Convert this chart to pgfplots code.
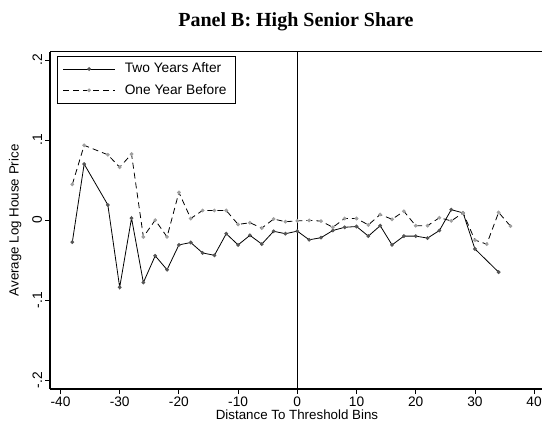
\documentclass[border=0pt]{standalone}
\usepackage{pgfplots}
\pgfplotsset{compat=1.18}
\usepackage{fontspec}
\setmainfont{Liberation Sans}
\newfontfamily\timesfont{Liberation Serif}
\definecolor{mkdark}{HTML}{555555}
\definecolor{mklight}{HTML}{A0A0A0}
\begin{document}
\begin{tikzpicture}
\path[use as bounding box] (0,0) rectangle (406.5pt,321.75pt);
\begin{axis}[
  at={(37.5pt,30pt)}, anchor=south west,
  scale only axis, width=369pt, height=253pt,
  xmin=-41.77, xmax=41.33, ymin=-0.211, ymax=0.2104,
  axis x line=box, axis y line=left,
  axis line style={-, line width=0.8pt, black},
  y axis line style={-},
  xtick={-40,-30,...,40},
  xticklabels={-40,-30,-20,-10,0,10,20,30,40},
  ytick={-0.2,-0.1,0,0.1,0.2},
  yticklabels={{-.2},{-.1},0,{.1},{.2}},
  xtick pos=bottom, ytick pos=left,
  tick align=outside, major tick length=3.75pt,
  tick style={black, line width=0.6pt},
  ticklabel style={font=\fontsize{10.3}{12}\selectfont},
  yticklabel style={rotate=90, anchor=south, inner sep=2pt},
  xticklabel style={inner sep=2pt},
  xlabel={Distance To Threshold Bins},
  ylabel={Average Log House Price},
  label style={font=\fontsize{10.3}{12}\selectfont},
  every axis x label/.style={at={(axis description cs:0.502,-0.075)}, anchor=center},
  every axis y label/.style={at={(axis description cs:-0.071,0.5)}, rotate=90, anchor=center},
  title={Panel B: High Senior Share},
  every axis title/.style={at={(axis description cs:0.5,1.088)}, anchor=center, font=\timesfont\bfseries\fontsize{15}{18}\selectfont},
  legend style={at={(axis description cs:0.0142,0.987)}, anchor=north west,
    draw=black, line width=0.5pt, inner xsep=4pt, inner ysep=3pt,
    font=\fontsize{10.3}{12}\selectfont, row sep=3pt,
    /tikz/every odd column/.append style={column sep=5pt}},
  legend cell align=left,
  legend image code/.code={\draw[mark indices={2},#1] plot coordinates {(0pt,0pt) (19.5pt,0pt) (39pt,0pt)};},
]
\addplot[black, line width=0.6pt, mark=*, mark size=1.1pt, mark options={solid, fill=mkdark, draw=mkdark}] coordinates {
(-38,-0.0275) (-36,0.070) (-32,0.019) (-30,-0.084) (-28,0.0025) (-26,-0.078)
(-24,-0.0446) (-22,-0.062) (-20,-0.031) (-18,-0.028) (-16,-0.041) (-14,-0.044)
(-12,-0.017) (-10,-0.031) (-8,-0.019) (-6,-0.030) (-4,-0.014) (-2,-0.017)
(0,-0.0138) (2,-0.0246) (4,-0.022) (6,-0.013) (8,-0.009) (10,-0.008)
(12,-0.020) (14,-0.007) (16,-0.031) (18,-0.020) (20,-0.020) (22,-0.0225)
(24,-0.013) (26,0.013) (28,0.009) (30,-0.036) (34,-0.065)
};
\addlegendentry{\makebox[77pt][l]{Two Years After}}
\addplot[black, line width=0.6pt, dash pattern=on 4.5pt off 3pt, mark=*, mark size=1.1pt, mark options={solid, fill=mklight, draw=mklight}] coordinates {
(-38,0.0446) (-36,0.0934) (-32,0.0816) (-30,0.066) (-28,0.0825) (-26,-0.021)
(-24,0.000) (-22,-0.021) (-20,0.0346) (-18,0.002) (-16,0.012) (-14,0.012)
(-12,0.012) (-10,-0.0054) (-8,-0.0033) (-6,-0.010) (-4,0.0013) (-2,-0.002)
(0,-0.001) (2,-0.0004) (4,-0.0012) (6,-0.009) (8,0.002) (10,0.002)
(12,-0.006) (14,0.007) (16,0.001) (18,0.011) (20,-0.007) (22,-0.007)
(24,0.003) (26,-0.001) (28,0.009) (30,-0.025) (32,-0.030) (34,0.0096) (36,-0.0075)
};
\addlegendentry{\makebox[77pt][l]{One Year Before}}
\addplot[black, line width=0.6pt, forget plot] coordinates {(0,-0.211) (0,0.2104)};
\end{axis}
\end{tikzpicture}
\end{document}
